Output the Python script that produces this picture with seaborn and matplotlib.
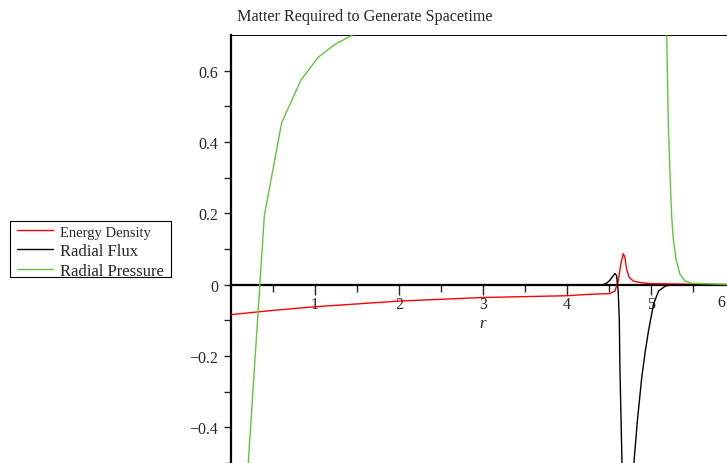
import numpy as np
import pandas as pd
import seaborn as sns
import matplotlib.pyplot as plt
from matplotlib.patches import Rectangle
from matplotlib.ticker import FixedLocator, FuncFormatter

# values
energy_r = [0.0, 0.5, 1.0, 2.0, 3.0, 4.0, 4.27, 4.51, 4.57, 4.61, 4.64, 4.67, 4.69, 4.71,
            4.74, 4.79, 4.87, 4.99, 5.5, 6.0]
energy_v = [-0.084, -0.072, -0.062, -0.046, -0.036, -0.031, -0.027, -0.025, -0.018, 0.010,
            0.057, 0.087, 0.076, 0.043, 0.021, 0.010, 0.006, 0.003, 0.001, 0.0]

# radial flux has a pole near r = 4.65, drawn as one line dipping below the frame
flux_r = [0.0, 4.43, 4.47, 4.51, 4.54, 4.57, 4.59, 4.61, 4.623, 4.63, 4.655, 4.66, 4.79, 4.798,
          4.838, 4.89, 4.93, 4.97, 5.03, 5.09, 5.17, 5.23, 6.0]
flux_v = [0.0, 0.0, 0.004, 0.012, 0.022, 0.031, 0.026, -0.018, -0.10, -0.233, -0.5, -0.55,
          -0.55, -0.496, -0.382, -0.26, -0.19, -0.13, -0.055, -0.018, -0.004, -0.001, 0.0]

# radial pressure, two separate pieces
press_left_r = [0.20, 0.397, 0.603, 0.833, 1.04, 1.24, 1.44]
press_left_v = [-0.52, 0.194, 0.454, 0.574, 0.638, 0.674, 0.699]
press_right_r = [5.187, 5.206, 5.226, 5.246, 5.266, 5.298, 5.345, 5.405, 5.484, 6.0]
press_right_v = [0.702, 0.454, 0.314, 0.193, 0.127, 0.071, 0.029, 0.010, 0.004, 0.0]

labels = ["Energy Density", "Radial Flux", "Radial Pressure"]
colors = ["#ff0000", "#000000", "#62c43c"]

df = pd.concat([
    pd.DataFrame({"r": energy_r, "v": energy_v, "series": labels[0], "piece": 0}),
    pd.DataFrame({"r": flux_r, "v": flux_v, "series": labels[1], "piece": 1}),
    pd.DataFrame({"r": press_left_r, "v": press_left_v, "series": labels[2], "piece": 2}),
    pd.DataFrame({"r": press_right_r, "v": press_right_v, "series": labels[2], "piece": 3}),
], ignore_index=True)

sns.set_style("white")
plt.rcParams['font.family'] = ['Liberation Serif', 'DejaVu Serif']

fig = plt.figure(figsize=(7.27, 4.64), dpi=100)
ax = fig.add_axes([231 / 727, 0.0, 496 / 727, 428 / 464])

sns.lineplot(data=df, x="r", y="v", hue="series", hue_order=labels, units="piece",
             estimator=None, sort=False, palette=colors, linewidth=1.0, ax=ax)
for ln in ax.lines:
    ln.set_zorder(3)

ax.set_xlim(0, 5.905)
ax.set_ylim(-0.5, 0.7)

ax.spines['right'].set_visible(False)
ax.spines['top'].set_linewidth(0.7)
ax.spines['left'].set_linewidth(1.6)
ax.spines['bottom'].set_position(('data', 0))
ax.spines['bottom'].set_linewidth(1.6)
for s in ax.spines.values():
    s.set_color('black')

ax.xaxis.set_major_locator(FixedLocator([1, 2, 3, 4, 5]))
ax.xaxis.set_minor_locator(FixedLocator([0.5, 1.5, 2.5, 3.5, 4.5, 5.5]))
ax.yaxis.set_major_locator(FixedLocator([-0.4, -0.2, 0, 0.2, 0.4, 0.6]))
ax.yaxis.set_minor_locator(FixedLocator([-0.5, -0.3, -0.1, 0.1, 0.3, 0.5]))
ax.yaxis.set_major_formatter(FuncFormatter(lambda v, p: ("%g" % v).replace('-', '\u2212')))

ax.tick_params(axis='x', which='major', direction='out', length=7, width=1, pad=1.5,
               labelsize=11.5, bottom=True)
ax.tick_params(axis='x', which='minor', direction='out', length=5, width=1, bottom=True)
ax.tick_params(axis='y', which='major', direction='out', length=5, width=1, pad=4,
               labelsize=11.5, left=True)
ax.tick_params(axis='y', which='minor', direction='out', length=5, width=1, left=True)

ax.text(0.988, 0.376, "6", transform=ax.transAxes, ha='center', va='center', fontsize=11.5)

ax.set_xlabel("r", style='italic', fontsize=12)
ax.xaxis.set_label_coords(3 / 5.905, 0.345)
ax.xaxis.label.set_va('top')
ax.set_ylabel("")

fig.text(237 / 727, 1 - 17 / 464, "Matter Required to Generate Spacetime",
         ha='left', va='center', fontsize=11.6)

# legend outside, with a plain box like the original
handles, _ = ax.get_legend_handles_labels()
ax.get_legend().remove()
leg = fig.legend(handles, labels, loc='upper left', bbox_to_anchor=(17 / 727, 1 - 225 / 464),
                 bbox_transform=fig.transFigure, fontsize=12, frameon=False,
                 borderpad=0, labelspacing=0.25, handlelength=2.15, handletextpad=0.42,
                 borderaxespad=0)
leg.get_texts()[0].set_fontsize(10.5)
for h in leg.get_lines():
    h.set_linewidth(1.0)
fig.add_artist(Rectangle((10 / 727, 1 - 278 / 464), 161 / 727, 56 / 464,
                         transform=fig.transFigure, fill=False, edgecolor='black', lw=0.8))

fig.savefig("out.png", dpi=100)
